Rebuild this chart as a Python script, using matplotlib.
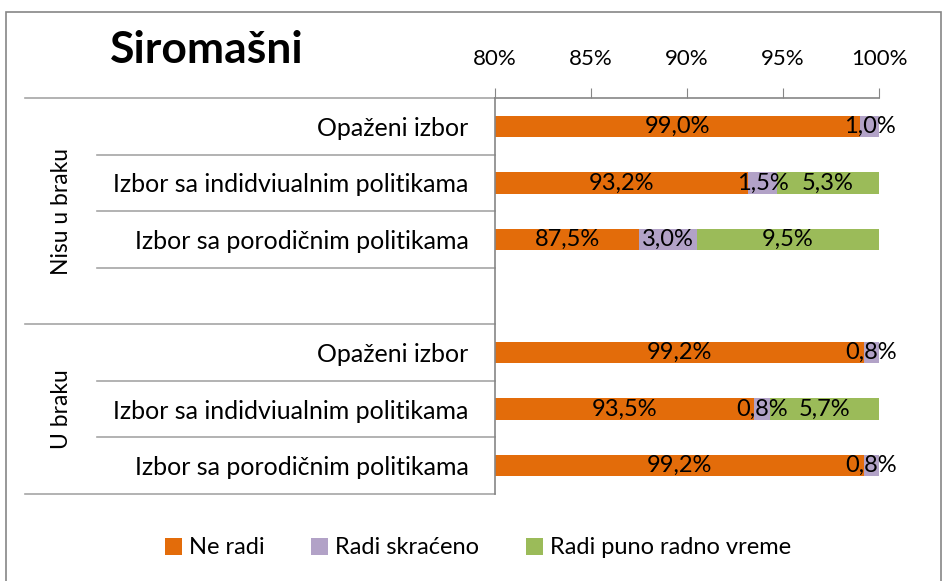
import numpy as np
import matplotlib.pyplot as plt
import matplotlib.transforms as mtransforms
from matplotlib.patches import Rectangle

plt.rcParams['font.family'] = ['Lato', 'DejaVu Sans']

# Data
categories = ["Opaženi izbor", "Izbor sa indidviualnim politikama", "Izbor sa porodičnim politikama", "",
              "Opaženi izbor", "Izbor sa indidviualnim politikama", "Izbor sa porodičnim politikama"]
groups = ["Nisu u braku", "U braku"]
ne_radi = [99.0, 93.2, 87.5, np.nan, 99.2, 93.5, 99.2]
radi_skraceno = [1.0, 1.5, 3.0, np.nan, 0.8, 0.8, 0.8]
radi_puno = [0.0, 5.3, 9.5, np.nan, 0.0, 5.7, 0.0]
series_names = ["Ne radi", "Radi skraćeno", "Radi puno radno vreme"]
colors = ["#E36C0A", "#B2A2C7", "#9BBB59"]
xticks = [80, 85, 90, 95, 100]

W, H = 944, 581
fig = plt.figure(figsize=(W / 100, H / 100), dpi=100)
ax = fig.add_axes([495 / W, 1 - 494 / H, (879 - 495) / W, (494 - 98) / H])

y = np.arange(len(categories))
left = np.zeros(len(categories))
series = [ne_radi, radi_skraceno, radi_puno]
for vals, name, col in zip(series, series_names, colors):
    vals = np.array(vals, dtype=float)
    ax.barh(y, vals, left=left, height=0.38, color=col, label=name, edgecolor='none')
    for yi, l, v in zip(y, left, vals):
        if np.isnan(v) or v == 0:
            continue
        x0 = max(l, 80)
        ax.text((x0 + l + v) / 2, yi, f"{v:.1f}%".replace('.', ','),
                ha='center', va='center', fontsize=17, color='black', clip_on=False)
    left = left + np.nan_to_num(vals)

ax.set_xlim(80, 100)
ax.set_ylim(6.5, -0.5)
ax.xaxis.tick_top()
ax.set_xticks(xticks)
ax.set_xticklabels([f"{t}%" for t in xticks], fontsize=16)
ax.tick_params(axis='x', direction='out', length=7, color='#868686', pad=14)
ax.set_yticks(y)
ax.set_yticklabels(categories, fontsize=18)
ax.tick_params(axis='y', length=0, pad=19)
for s in ['right', 'bottom']:
    ax.spines[s].set_visible(False)
for s in ['top', 'left']:
    ax.spines[s].set_color('#868686')
    ax.spines[s].set_linewidth(1.2)

# multi-level category lines
tr = mtransforms.blended_transform_factory(fig.transFigure, ax.transData)
for b in np.arange(-0.5, 7, 1.0):
    x_start = 25 / W if b in (-0.5, 3.5, 6.5) else 97 / W
    ax.plot([x_start, 495 / W], [b, b], transform=tr, color='#A6A6A6', lw=1.2, clip_on=False)
ax.text(62 / W, 1.5, groups[0], transform=tr, rotation=90, ha='center', va='center', fontsize=16.5)
ax.text(62 / W, 5.0, groups[1], transform=tr, rotation=90, ha='center', va='center', fontsize=16.5)

fig.text(110 / W, 1 - 50 / H, "Siromašni", fontsize=32, fontweight='bold', va='center', ha='left')

handles, labels = ax.get_legend_handles_labels()
fig.legend(handles, labels, loc='center', bbox_to_anchor=(478 / W, 1 - 548 / H), ncol=3,
           frameon=False, fontsize=17, handlelength=0.7, handleheight=0.7,
           handletextpad=0.3, columnspacing=2.0)

fig.patches.append(Rectangle((6 / W, -0.05), 935 / W, 1.05 - 12 / H, transform=fig.transFigure,
                             fill=False, edgecolor='#868686', lw=1.2))

fig.savefig("out.png", dpi=100)
